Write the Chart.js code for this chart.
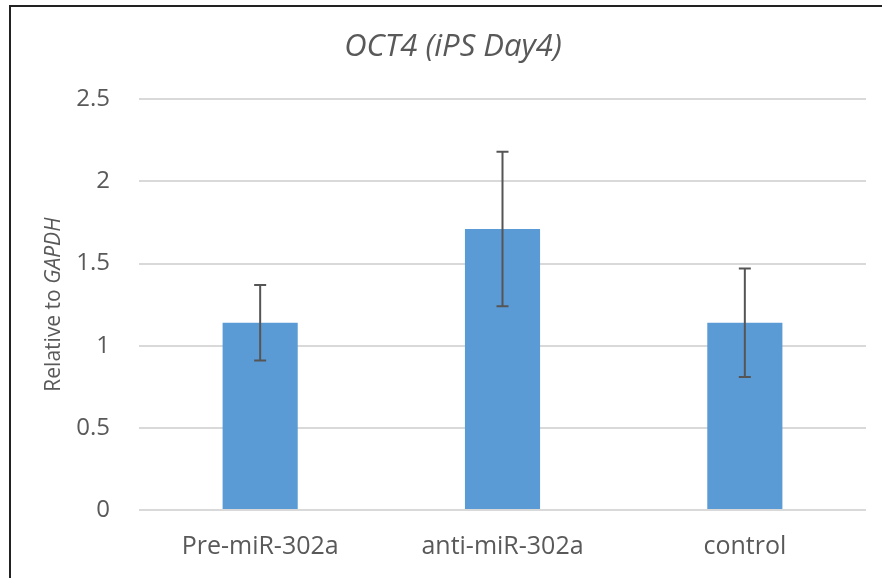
<!DOCTYPE html>
<html>
<head>
<meta charset="utf-8">
<script src="https://cdn.jsdelivr.net/npm/chart.js@4.4.0/dist/chart.umd.min.js"></script>
<style>
    html, body { margin: 0; padding: 0; background: #fff; }
    #wrap { position: relative; width: 882px; height: 578px; overflow: hidden; }
    #frame {
        position: absolute; left: 9px; top: 5px; right: -10px; bottom: -10px;
        border-top: 2px solid #222; border-left: 2px solid #222;
        pointer-events: none;
    }
    canvas { position: absolute; left: 0; top: 0; }
</style>
</head>
<body>
<div id="wrap">
    <canvas id="oct4Chart" width="882" height="578"></canvas>
    <div id="frame"></div>
</div>
<script>
const categories = ['Pre-miR-302a', 'anti-miR-302a', 'control'];
const relExpression = [1.14, 1.71, 1.14];
const stdError = [0.23, 0.47, 0.33];
const yTicks = [0, 0.5, 1, 1.5, 2, 2.5];

const textColor = '#595959';
const fontFamily = '"Open Sans", "DejaVu Sans", sans-serif';

// error bars drawn on top of each bar
const errorBars = {
    id: 'errorBars',
    afterDatasetsDraw(chart) {
        const ctx = chart.ctx;
        const y = chart.scales.y;
        const meta = chart.getDatasetMeta(0);
        ctx.save();
        ctx.strokeStyle = '#555555';
        ctx.lineWidth = 2;
        meta.data.forEach(function (bar, i) {
            const top = y.getPixelForValue(relExpression[i] + stdError[i]);
            const bottom = y.getPixelForValue(relExpression[i] - stdError[i]);
            ctx.beginPath();
            ctx.moveTo(bar.x, top);
            ctx.lineTo(bar.x, bottom);
            ctx.moveTo(bar.x - 6, top);
            ctx.lineTo(bar.x + 6, top);
            ctx.moveTo(bar.x - 6, bottom);
            ctx.lineTo(bar.x + 6, bottom);
            ctx.stroke();
        });
        ctx.restore();
    }
};

// y axis title with the gene name in italics
const yAxisTitle = {
    id: 'yAxisTitle',
    afterDraw(chart) {
        const ctx = chart.ctx;
        const area = chart.chartArea;
        const plain = 'Relative to ';
        const gene = 'GAPDH';
        ctx.save();
        ctx.translate(54, (area.top + area.bottom) / 2);
        ctx.rotate(-Math.PI / 2);
        ctx.fillStyle = textColor;
        ctx.textBaseline = 'middle';
        ctx.font = '21px ' + fontFamily;
        const w1 = ctx.measureText(plain).width;
        ctx.font = 'italic 21px ' + fontFamily;
        const w2 = ctx.measureText(gene).width;
        const start = -(w1 + w2) / 2;
        ctx.textAlign = 'left';
        ctx.font = '21px ' + fontFamily;
        ctx.fillText(plain, start, 0);
        ctx.font = 'italic 21px ' + fontFamily;
        ctx.fillText(gene, start + w1, 0);
        ctx.restore();
    }
};

const ctx = document.getElementById('oct4Chart').getContext('2d');
new Chart(ctx, {
    type: 'bar',
    data: {
        labels: categories,
        datasets: [{
            data: relExpression,
            backgroundColor: '#5b9bd5',
            borderWidth: 0,
            barPercentage: 0.31,
            categoryPercentage: 1.0
        }]
    },
    options: {
        responsive: false,
        animation: false,
        layout: {
            padding: { left: 40, right: 16, top: 29, bottom: 2 }
        },
        plugins: {
            legend: { display: false },
            tooltip: { enabled: false },
            title: {
                display: true,
                text: 'OCT4 (iPS Day4)',
                color: textColor,
                font: { family: fontFamily, size: 31, style: 'italic', weight: 'normal' },
                padding: { top: 0, bottom: 33 }
            }
        },
        scales: {
            x: {
                grid: { display: false },
                border: { display: false },
                ticks: {
                    color: textColor,
                    font: { family: fontFamily, size: 25 },
                    padding: 14
                }
            },
            y: {
                min: 0,
                max: 2.5,
                afterBuildTicks(scale) {
                    scale.ticks = yTicks.map(v => ({ value: v }));
                },
                afterFit(scale) {
                    scale.width = 99;
                },
                grid: { color: '#d9d9d9', lineWidth: 2, drawTicks: false },
                border: { display: false },
                ticks: {
                    color: textColor,
                    font: { family: fontFamily, size: 24 },
                    padding: 29,
                    callback: v => String(v)
                }
            }
        }
    },
    plugins: [errorBars, yAxisTitle]
});
</script>
</body>
</html>
